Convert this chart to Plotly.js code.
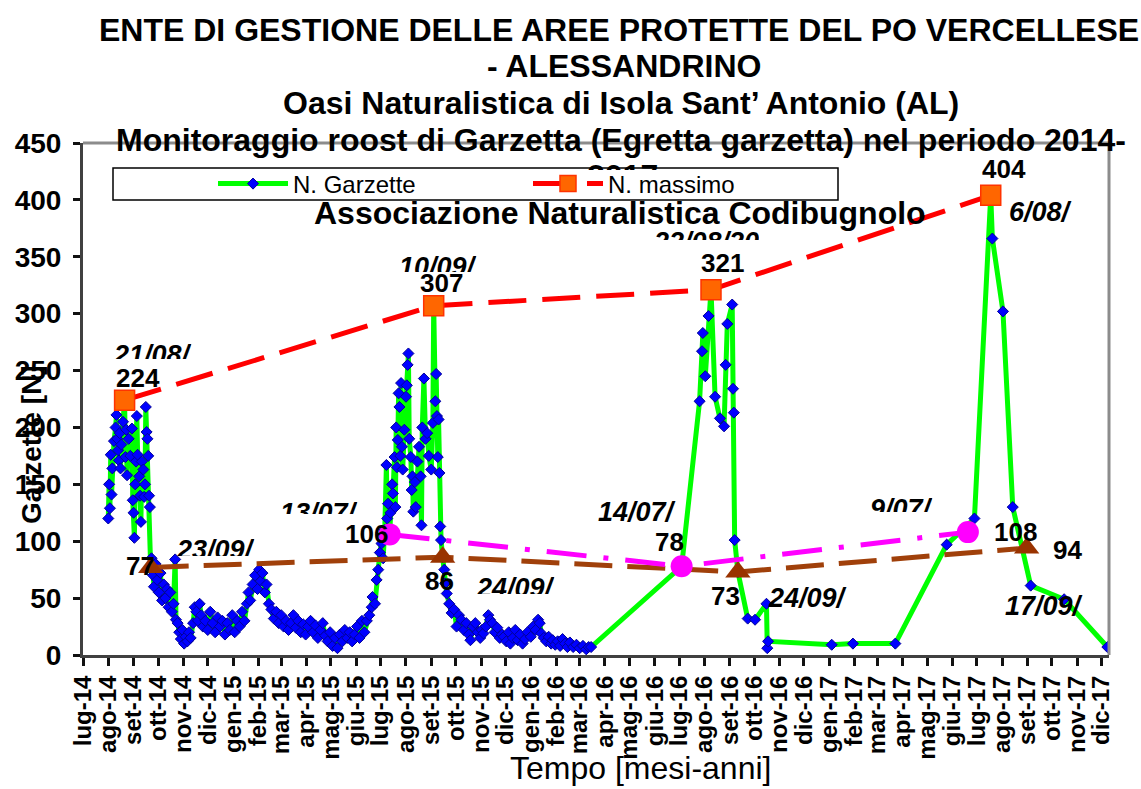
<!DOCTYPE html>
<html><head><meta charset="utf-8">
<script src="https://cdn.plot.ly/plotly-3.0.1.min.js"></script>
<style>html,body{margin:0;padding:0;background:#fff}#chart{width:1141px;height:789px}</style>
</head><body><div id="chart"></div>
<script>
// ---------------- DATA ----------------
const tickLabels = ['lug-14','ago-14','set-14','ott-14','nov-14','dic-14',
 'gen-15','feb-15','mar-15','apr-15','mag-15','giu-15','lug-15','ago-15','set-15','ott-15','nov-15','dic-15',
 'gen-16','feb-16','mar-16','apr-16','mag-16','giu-16','lug-16','ago-16','set-16','ott-16','nov-16','dic-16',
 'gen-17','feb-17','mar-17','apr-17','mag-17','giu-17','lug-17','ago-17','set-17','ott-17','nov-17','dic-17'];

const garzDates = [
 '2014-08-01','2014-08-02','2014-08-03','2014-08-04','2014-08-05','2014-08-06','2014-08-08','2014-08-10','2014-08-11','2014-08-12',
 '2014-08-13','2014-08-14','2014-08-15','2014-08-16','2014-08-17','2014-08-19','2014-08-21','2014-08-22','2014-08-23','2014-08-24',
 '2014-08-26','2014-08-28','2014-08-30','2014-08-31','2014-09-01','2014-09-02','2014-09-03','2014-09-04','2014-09-05','2014-09-06',
 '2014-09-08','2014-09-09','2014-09-10','2014-09-11','2014-09-13','2014-09-14','2014-09-15','2014-09-16','2014-09-17','2014-09-18',
 '2014-09-19','2014-09-20','2014-09-21','2014-09-22','2014-09-23','2014-09-25','2014-09-26','2014-09-28','2014-09-30','2014-10-02',
 '2014-10-04','2014-10-06','2014-10-08','2014-10-10','2014-10-12','2014-10-14','2014-10-16','2014-10-18','2014-10-20','2014-10-22',
 '2014-10-23','2014-10-25','2014-10-27','2014-10-29','2014-10-31','2014-11-02','2014-11-04','2014-11-06','2014-11-08','2014-11-10',
 '2014-11-13','2014-11-15','2014-11-17','2014-11-19','2014-11-21','2014-11-23','2014-11-25','2014-11-28','2014-12-01','2014-12-04',
 '2014-12-07','2014-12-10','2014-12-13','2014-12-16','2014-12-19','2014-12-22','2014-12-25','2014-12-28','2014-12-31',
 '2015-01-03','2015-01-06','2015-01-09','2015-01-12','2015-01-15','2015-01-18','2015-01-20','2015-01-22','2015-01-25','2015-01-28',
 '2015-01-31','2015-02-02','2015-02-04','2015-02-06','2015-02-09','2015-02-11','2015-02-14','2015-02-17','2015-02-20','2015-02-23',
 '2015-02-26','2015-03-01','2015-03-04','2015-03-07','2015-03-10','2015-03-13','2015-03-16','2015-03-19','2015-03-22','2015-03-25',
 '2015-03-28','2015-03-31','2015-04-03','2015-04-06','2015-04-09','2015-04-12','2015-04-15','2015-04-18','2015-04-21','2015-04-24',
 '2015-04-27','2015-04-30','2015-05-03','2015-05-06','2015-05-09','2015-05-12','2015-05-15','2015-05-18','2015-05-21','2015-05-24',
 '2015-05-27','2015-05-30','2015-06-02','2015-06-05','2015-06-08','2015-06-11','2015-06-14','2015-06-17','2015-06-20','2015-06-21',
 '2015-06-24','2015-06-26','2015-06-28','2015-06-30','2015-07-02','2015-07-04','2015-07-06','2015-07-08','2015-07-09','2015-07-10',
 '2015-07-12','2015-07-13','2015-07-15','2015-07-16','2015-07-18','2015-07-19','2015-07-20','2015-07-21','2015-07-22','2015-07-23',
 '2015-07-24','2015-07-25','2015-07-26','2015-07-27','2015-07-28','2015-07-30','2015-08-01','2015-08-02','2015-08-03','2015-08-04',
 '2015-08-05','2015-08-07','2015-08-08','2015-08-09','2015-08-10','2015-08-12','2015-08-13','2015-08-15','2015-08-17','2015-08-19',
 '2015-08-20','2015-08-21','2015-08-23','2015-08-25','2015-08-27','2015-08-29','2015-09-01','2015-09-03','2015-09-04','2015-09-06',
 '2015-09-07','2015-09-08','2015-09-09','2015-09-10','2015-09-11','2015-09-12','2015-09-13','2015-09-15','2015-09-17','2015-09-18',
 '2015-09-20','2015-09-23','2015-09-26','2015-09-29','2015-10-02','2015-10-05','2015-10-08','2015-10-11','2015-10-14','2015-10-17',
 '2015-10-19','2015-10-22','2015-10-25','2015-10-28','2015-10-31','2015-11-02','2015-11-04','2015-11-07','2015-11-10','2015-11-12',
 '2015-11-15','2015-11-18','2015-11-21','2015-11-24','2015-11-27','2015-11-29','2015-12-02','2015-12-05','2015-12-07','2015-12-10',
 '2015-12-13','2015-12-16','2015-12-19','2015-12-22','2015-12-25','2015-12-28','2016-01-01','2016-01-04','2016-01-07','2016-01-10',
 '2016-01-12','2016-01-14','2016-01-17','2016-01-20','2016-01-23','2016-01-26','2016-01-28','2016-01-31','2016-02-03','2016-02-06',
 '2016-02-09','2016-02-12','2016-02-15','2016-02-18','2016-02-22','2016-02-26','2016-03-01','2016-03-05','2016-03-09','2016-03-12',
 '2016-03-15','2016-07-04','2016-07-26','2016-07-29','2016-07-30','2016-08-02','2016-08-06','2016-08-09','2016-08-14','2016-08-20',
 '2016-08-25','2016-08-27','2016-08-29','2016-09-04','2016-09-05','2016-09-06','2016-09-07','2016-09-11','2016-09-23','2016-10-02',
 '2016-10-16','2016-10-17','2016-10-18','2017-01-04','2017-01-30','2017-03-23','2017-05-25','2017-06-28','2017-07-18','2017-07-20',
 '2017-08-02','2017-08-14','2017-09-05','2017-10-16','2017-12-08'];

const garzValues = [
 120,150,129,176,141,164,188,200,211,190,
 180,171,195,164,185,205,224,174,198,158,
 190,175,199,136,125,103,150,170,210,176,
 157,140,117,170,163,139,150,218,196,190,
 175,140,130,77,85,70,60,80,66,55,
 72,48,62,50,58,42,55,38,45,84,
 31,28,20,14,22,10,16,12,20,15,
 28,42,38,30,45,35,25,30,22,38,
 28,20,33,25,30,18,28,22,35,
 20,30,25,38,30,45,55,48,62,70,
 58,75,65,72,55,62,45,40,32,38,
 28,35,25,30,22,28,35,24,30,20,
 27,18,25,30,20,26,15,22,28,17,
 12,20,8,15,6,18,12,22,15,20,
 12,18,25,15,30,20,30,35,42,51,
 45,66,75,90,98,85,110,167,120,133,
 106,125,150,142,174,130,200,165,189,230,
 218,175,239,183,163,198,227,237,255,265,
 190,174,145,157,126,152,130,170,183,157,
 114,200,243,190,195,175,163,204,307,223,
 247,210,174,207,160,113,101,86,75,63,
 54,45,37,40,25,35,31,22,28,18,
 13,25,28,20,15,22,19,25,35,31,
 28,20,24,15,18,16,12,20,10,15,
 22,13,18,10,14,20,16,25,22,31,
 28,19,15,12,16,10,13,9,12,8,
 14,10,7,11,7,9,6,8,5,7,
 7,78,223,267,283,245,298,321,227,208,
 201,255,291,308,234,213,101,73,32,31,
 45,6,12,9,10,10,97,120,404,366,
 302,130,61,49,7];

// maximum per year (N. massimo)
const maxDates = ['2014-08-21','2015-09-04','2016-08-09','2017-07-18'];
const maxValues = [224, 307, 321, 404];
const maxDateLabels = ['21/08/','10/09/','22/08/20','6/08/'];

// minimum after the peak (brown)
const minDates = ['2014-09-22','2015-09-15','2016-09-11','2017-08-31'];
const minValues = [77, 86, 73, 94];
const minDateLabels = ['23/09/','24/09/','24/09/','17/09/'];

// July values (magenta)
const julDates = ['2015-07-12','2016-07-04','2017-06-20'];
const julValues = [106, 78, 108];
const julDateLabels = ['13/07/','14/07/','9/07/'];

const titleLines = ['ENTE DI GESTIONE DELLE AREE PROTETTE DEL PO VERCELLESE',
 '- ALESSANDRINO',
 'Oasi Naturalistica di Isola Sant\u2019 Antonio (AL)',
 'Monitoraggio roost di Garzetta (Egretta garzetta) nel periodo 2014-',
 '2017',
 'Associazione Naturalistica Codibugnolo'];

// ---------------- STYLE / LAYOUT ----------------
const FONT = 'Arial, "Liberation Sans", Helvetica, sans-serif';
const L = 83, R = 1109, T = 143, B = 655;
const px = x => (x - L) / (R - L);
const py = y => (B - y) / (B - T);

const tickVals = tickLabels.map((_, i) => {
  const m = 6 + i; const yr = 2014 + Math.floor(m / 12); const mo = (m % 12) + 1;
  return yr + '-' + String(mo).padStart(2, '0') + '-01';
});

const traces = [
 {x: garzDates, y: garzValues, name: 'N. Garzette', mode: 'lines+markers', type: 'scatter',
  line: {color: '#00FF00', width: 5},
  marker: {symbol: 'diamond', size: 8.5, color: '#0000FF', line: {color: '#000099', width: 1}}},
 {x: maxDates, y: maxValues, name: 'N. massimo', mode: 'lines+markers', type: 'scatter',
  line: {color: '#FF0000', width: 5, dash: '38px,16px'},
  marker: {symbol: 'square', size: 20, color: '#FF6600', line: {color: '#FF3300', width: 1.5}}},
 {x: minDates, y: minValues, name: 'min', mode: 'lines+markers', type: 'scatter', showlegend: false,
  line: {color: '#A0400A', width: 5, dash: '38px,15px'},
  marker: {symbol: 'triangle-up', size: 22, color: '#993300'}},
 {x: julDates, y: julValues, name: 'lug', mode: 'lines+markers', type: 'scatter', showlegend: false,
  line: {color: '#FF00FF', width: 5, dash: '40px,17px,5px,17px'},
  marker: {symbol: 'circle', size: 22, color: '#FF00FF'}}
];

const ann = [];
// title lines
const titleY = [30, 66, 103, 140, null, 213];
const titleX = [619, 624, 621, 621, 622, 620];
const TITLE_SIZE = 32;
titleLines.forEach((t, i) => {
  if (titleY[i] === null) {
    ann.push({xref: 'paper', yref: 'paper', x: px(titleX[i]), y: py(156), xanchor: 'center', yanchor: 'top',
      height: 12, valign: 'top', showarrow: false, text: '<b>' + t + '</b>',
      font: {family: FONT, size: TITLE_SIZE, color: '#000'}});
  } else {
    ann.push({xref: 'paper', yref: 'paper', x: px(titleX[i]), y: py(titleY[i]), xanchor: 'center', yanchor: 'middle',
      showarrow: false, text: '<b>' + t + '</b>', font: {family: FONT, size: TITLE_SIZE, color: '#000'}});
  }
});
// axis titles
ann.push({xref: 'paper', yref: 'paper', x: px(31), y: py(445), xanchor: 'center', yanchor: 'middle', textangle: -90,
  showarrow: false, text: '<b>Garzette [N]</b>', font: {family: FONT, size: 28, color: '#000'}});
ann.push({xref: 'paper', yref: 'paper', x: px(640), y: py(768), xanchor: 'center', yanchor: 'middle',
  showarrow: false, text: 'Tempo [mesi-anni]', font: {family: FONT, size: 32, color: '#000'}});

// data labels
function addLabels(dates, values, dateLabels, valStyle, dateStyle) {
  dates.forEach((d, i) => {
    ann.push({x: d, y: values[i], xref: 'x', yref: 'y', showarrow: false, xanchor: 'center', yanchor: 'middle',
      xshift: valStyle[i][0], yshift: valStyle[i][1], text: '<b>' + values[i] + '</b>',
      font: {family: FONT, size: 26, color: '#000'}});
    const s = dateStyle[i];
    const a = {x: d, y: values[i], xref: 'x', yref: 'y', showarrow: false, xanchor: 'center', yanchor: 'top',
      xshift: s[0], yshift: s[1], text: '<b><i>' + dateLabels[i] + '</i></b>',
      font: {family: FONT, size: 27, color: '#000'}};
    if (s[2]) { a.height = s[2]; a.valign = 'top'; }
    ann.push(a);
  });
}
addLabels(maxDates, maxValues, maxDateLabels,
  [[13, 22], [8, 23], [11, 27], [13, 26]],
  [[28, 62, 19], [4, 56, 20], [-5, 65, 13], [50, 0, null]]);
addLabels(minDates, minValues, minDateLabels,
  [[-10, 1], [-3, -24], [-12, -24], [41, -2]],
  [[65, 34, 21], [73, -14, 21], [70, -9, null], [17, -41, null]]);
addLabels(julDates, julValues, julDateLabels,
  [[-23, 0], [-12, 24], [48, 0]],
  [[-71, 38, 16], [-45, 71, null], [-66, 40, 18]]);

const shapes = [
  // top and right frame
  {type: 'line', xref: 'paper', yref: 'paper', x0: 0, x1: 1, y0: 1, y1: 1, line: {color: '#8c8c8c', width: 3}},
  {type: 'line', xref: 'paper', yref: 'paper', x0: 1, x1: 1, y0: 0, y1: 1, line: {color: '#8c8c8c', width: 3}},
  // legend box
  {type: 'rect', xref: 'paper', yref: 'paper', x0: px(113), x1: px(838), y0: py(200), y1: py(168),
   fillcolor: '#ffffff', line: {color: '#000', width: 1.5}, layer: 'above'}
];

const layout = {
  width: 1141, height: 789,
  margin: {l: L, r: 1141 - R, t: T, b: 789 - B, pad: 0},
  paper_bgcolor: '#fff', plot_bgcolor: '#fff',
  showlegend: true,
  legend: {orientation: 'h', x: px(213), y: py(184), xanchor: 'left', yanchor: 'middle',
    bgcolor: 'rgba(0,0,0,0)', borderwidth: 0, itemwidth: 70, entrywidth: 230, entrywidthmode: 'pixels',
    font: {family: FONT, size: 24, color: '#000'}},
  xaxis: {type: 'date', range: ['2014-07-01', '2017-12-10'], tickmode: 'array', tickvals: tickVals, ticktext: tickLabels,
    tickangle: -90, tickfont: {family: FONT, size: 24, color: '#000', weight: 'bold'},
    ticks: 'outside', ticklen: 8, tickwidth: 3, tickcolor: '#111',
    showline: true, linecolor: '#404040', linewidth: 3, showgrid: false, zeroline: false},
  yaxis: {range: [0, 450], tickmode: 'linear', tick0: 0, dtick: 50,
    tickfont: {family: FONT, size: 28, color: '#000', weight: 'bold'},
    ticks: 'outside', ticklen: 7, tickwidth: 3, tickcolor: '#111', ticklabelstandoff: 6,
    showline: true, linecolor: '#404040', linewidth: 3, showgrid: false, zeroline: false},
  annotations: ann,
  shapes: shapes
};

Plotly.newPlot('chart', traces, layout, {displayModeBar: false, staticPlot: true});
</script>
</body></html>
